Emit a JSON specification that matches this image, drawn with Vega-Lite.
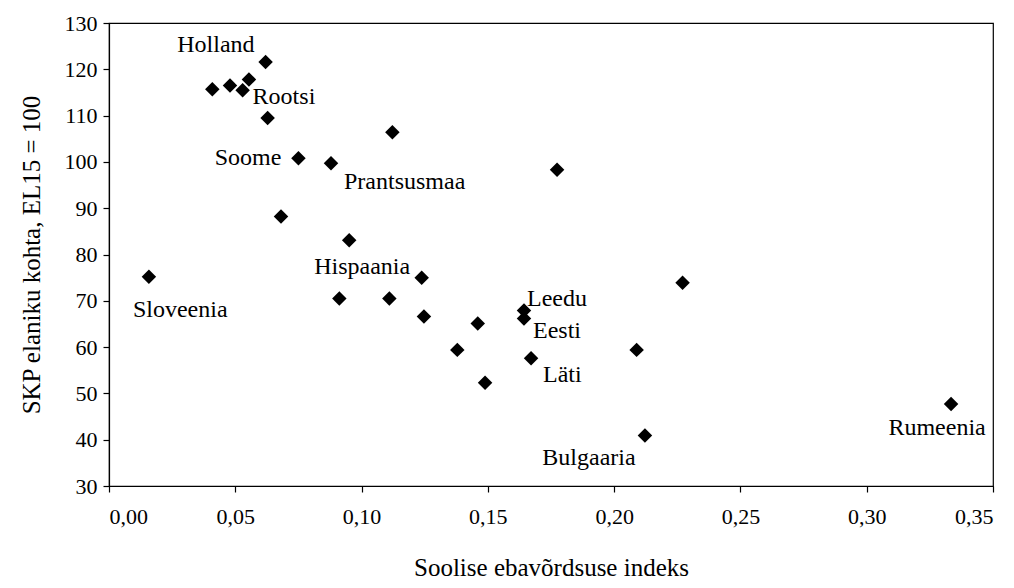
{
  "$schema": "https://vega.github.io/schema/vega-lite/v6.json",
  "width": 884,
  "height": 463,
  "autosize": {"type": "none"},
  "padding": {"left": 109, "top": 23, "right": 21, "bottom": 102},
  "background": "white",
  "config": {
    "font": "Liberation Serif",
    "view": {"stroke": "black", "strokeWidth": 1.2},
    "axis": {"grid": false, "domainColor": "black", "tickColor": "black", "labelColor": "black", "titleColor": "black", "labelFont": "Liberation Serif", "titleFont": "Liberation Serif", "labelFontSize": 22, "titleFontSize": 25, "titleFontWeight": "normal", "tickSize": 6, "domainWidth": 1.2, "tickWidth": 1.2}
  },
  "data": {"values": [
    {"x": 0.0158, "y": 75.2, "label": "Sloveenia"},
    {"x": 0.0409, "y": 115.7, "label": ""},
    {"x": 0.0479, "y": 116.5, "label": ""},
    {"x": 0.0529, "y": 115.5, "label": "Rootsi"},
    {"x": 0.0554, "y": 117.8, "label": ""},
    {"x": 0.0620, "y": 121.6, "label": "Holland"},
    {"x": 0.0628, "y": 109.5, "label": ""},
    {"x": 0.0681, "y": 88.2, "label": ""},
    {"x": 0.0750, "y": 100.8, "label": "Soome"},
    {"x": 0.0879, "y": 99.7, "label": "Prantsusmaa"},
    {"x": 0.0912, "y": 70.5, "label": ""},
    {"x": 0.0951, "y": 83.1, "label": "Hispaania"},
    {"x": 0.1110, "y": 70.5, "label": ""},
    {"x": 0.1122, "y": 106.4, "label": ""},
    {"x": 0.1238, "y": 75.0, "label": ""},
    {"x": 0.1247, "y": 66.6, "label": ""},
    {"x": 0.1379, "y": 59.4, "label": ""},
    {"x": 0.1460, "y": 65.1, "label": ""},
    {"x": 0.1489, "y": 52.3, "label": ""},
    {"x": 0.1643, "y": 67.9, "label": "Leedu"},
    {"x": 0.1643, "y": 66.2, "label": "Eesti"},
    {"x": 0.1671, "y": 57.6, "label": "Läti"},
    {"x": 0.1774, "y": 98.3, "label": ""},
    {"x": 0.2089, "y": 59.4, "label": ""},
    {"x": 0.2122, "y": 40.9, "label": "Bulgaaria"},
    {"x": 0.2271, "y": 73.9, "label": ""},
    {"x": 0.3334, "y": 47.7, "label": "Rumeenia"}
  ]},
  "encoding": {
    "x": {"field": "x", "type": "quantitative", "scale": {"domain": [0, 0.35], "nice": false, "zero": false},
      "axis": {"values": [0, 0.05, 0.1, 0.15, 0.2, 0.25, 0.3, 0.35], "labelExpr": "replace(format(datum.value, '.2f'), '.', ',')", "labelPadding": 14, "title": "Soolise ebavõrdsuse indeks", "titlePadding": 28}},
    "y": {"field": "y", "type": "quantitative", "scale": {"domain": [30, 130], "nice": false, "zero": false},
      "axis": {"values": [30, 40, 50, 60, 70, 80, 90, 100, 110, 120, 130], "labelPadding": 6, "title": "SKP elaniku kohta, EL15 = 100", "titlePadding": 20}}
  },
  "layer": [
    {"mark": {"type": "point", "shape": "diamond", "filled": true, "color": "black", "opacity": 1, "size": 210}},
    {"transform": [{"filter": "datum.label == 'Holland'"}], "mark": {"type": "text", "align": "right", "baseline": "middle", "dx": -11, "dy": -17, "fontSize": 24, "color": "black"}, "encoding": {"text": {"field": "label"}}},
    {"transform": [{"filter": "datum.label == 'Rootsi'"}], "mark": {"type": "text", "align": "left", "baseline": "middle", "dx": 10, "dy": 7, "fontSize": 24, "color": "black"}, "encoding": {"text": {"field": "label"}}},
    {"transform": [{"filter": "datum.label == 'Soome'"}], "mark": {"type": "text", "align": "right", "baseline": "middle", "dx": -17, "dy": 0, "fontSize": 24, "color": "black"}, "encoding": {"text": {"field": "label"}}},
    {"transform": [{"filter": "datum.label == 'Prantsusmaa'"}], "mark": {"type": "text", "align": "left", "baseline": "middle", "dx": 13, "dy": 19, "fontSize": 24, "color": "black"}, "encoding": {"text": {"field": "label"}}},
    {"transform": [{"filter": "datum.label == 'Sloveenia'"}], "mark": {"type": "text", "align": "left", "baseline": "middle", "dx": -16, "dy": 33, "fontSize": 24, "color": "black"}, "encoding": {"text": {"field": "label"}}},
    {"transform": [{"filter": "datum.label == 'Hispaania'"}], "mark": {"type": "text", "align": "center", "baseline": "middle", "dx": 13, "dy": 27, "fontSize": 24, "color": "black"}, "encoding": {"text": {"field": "label"}}},
    {"transform": [{"filter": "datum.label == 'Leedu'"}], "mark": {"type": "text", "align": "left", "baseline": "middle", "dx": 3, "dy": -12, "fontSize": 24, "color": "black"}, "encoding": {"text": {"field": "label"}}},
    {"transform": [{"filter": "datum.label == 'Eesti'"}], "mark": {"type": "text", "align": "left", "baseline": "middle", "dx": 9, "dy": 13, "fontSize": 24, "color": "black"}, "encoding": {"text": {"field": "label"}}},
    {"transform": [{"filter": "datum.label == 'Läti'"}], "mark": {"type": "text", "align": "left", "baseline": "middle", "dx": 12, "dy": 17, "fontSize": 24, "color": "black"}, "encoding": {"text": {"field": "label"}}},
    {"transform": [{"filter": "datum.label == 'Bulgaaria'"}], "mark": {"type": "text", "align": "center", "baseline": "middle", "dx": -56, "dy": 22, "fontSize": 24, "color": "black"}, "encoding": {"text": {"field": "label"}}},
    {"transform": [{"filter": "datum.label == 'Rumeenia'"}], "mark": {"type": "text", "align": "center", "baseline": "middle", "dx": -14, "dy": 24, "fontSize": 24, "color": "black"}, "encoding": {"text": {"field": "label"}}}
  ]
}
